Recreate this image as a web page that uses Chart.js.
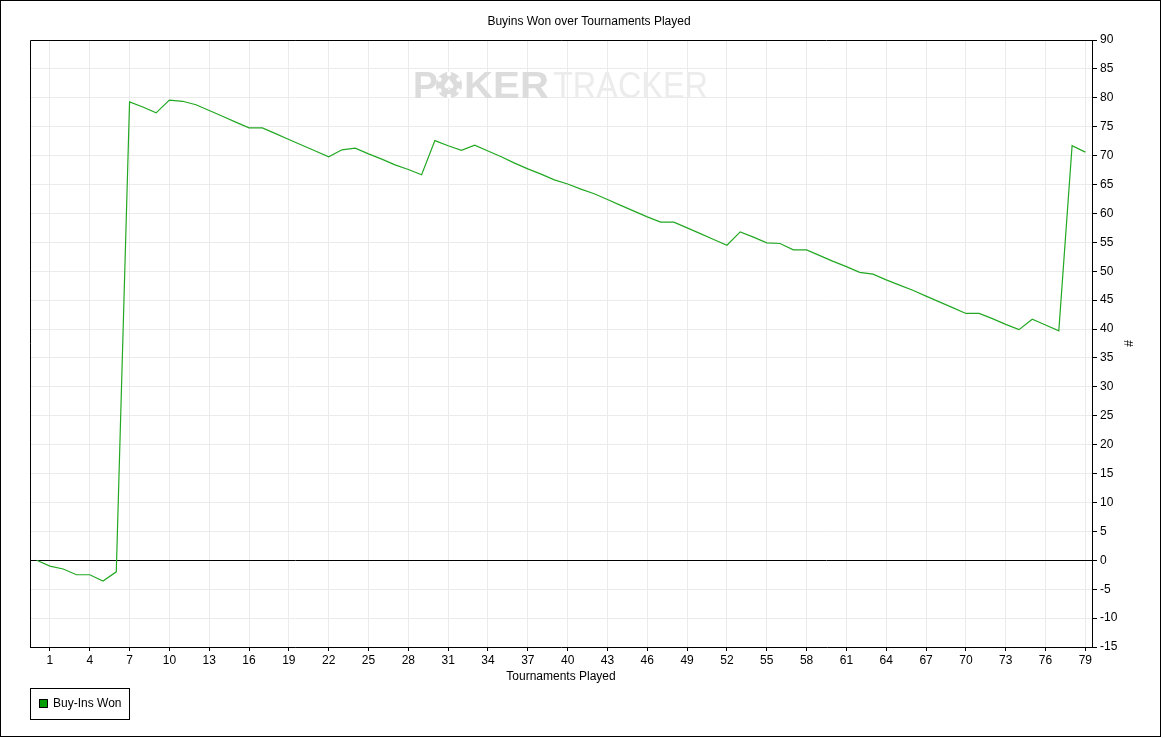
<!DOCTYPE html>
<html>
<head>
<meta charset="utf-8">
<title>Buyins Won over Tournaments Played</title>
<script src="https://cdn.jsdelivr.net/npm/chart.js@4.4.1/dist/chart.umd.min.js"></script>
<style>
  html, body { margin: 0; padding: 0; background: #fff; }
  #wrap { width: 1165px; height: 738px; }
</style>
</head>
<body>
<div id="wrap"><canvas id="chart" width="1165" height="738"></canvas></div>
<script>
(function () {

  var chartTitle = 'Buyins Won over Tournaments Played';
  var xAxisTitle = 'Tournaments Played';
  var yAxisTitle = '#';
  var seriesName = 'Buy-Ins Won';

  // buy-ins won after each tournament (index = tournament number, 0 = start)
  var buyinsWon = [
    0, -1.0, -1.5, -2.5, -2.5, -3.6, -2.0, 79.3, 78.4, 77.4,
    79.6, 79.4, 78.8, 77.8, 76.8, 75.8, 74.8, 74.8, 73.8, 72.8,
    71.8, 70.8, 69.8, 71.0, 71.3, 70.3, 69.4, 68.4, 67.6, 66.7,
    72.6, 71.7, 70.9, 71.8, 70.8, 69.8, 68.7, 67.7, 66.8, 65.8,
    65.1, 64.2, 63.4, 62.4, 61.4, 60.4, 59.4, 58.5, 58.5, 57.5,
    56.5, 55.5, 54.5, 56.8, 55.9, 54.9, 54.8, 53.7, 53.7, 52.7,
    51.7, 50.8, 49.8, 49.5, 48.5, 47.6, 46.7, 45.7, 44.7, 43.7,
    42.7, 42.7, 41.8, 40.8, 39.9, 41.7, 40.7, 39.7, 71.7, 70.6
  ];

  var xTickValues = [1, 4, 7, 10, 13, 16, 19, 22, 25, 28, 31, 34, 37, 40,
    43, 46, 49, 52, 55, 58, 61, 64, 67, 70, 73, 76, 79];
  var yMin = -15;
  var yMax = 90;
  var yStep = 5;

  var FONT = '"Liberation Sans", Arial, sans-serif';
  var LINE_COLOR = '#22a822';
  var GRID_COLOR = '#ebebeb';

  var points = buyinsWon.map(function (v, i) { return { x: i, y: v }; });

  function drawWatermark(ctx) {
    ctx.save();
    ctx.textBaseline = 'alphabetic';
    ctx.fillStyle = '#dcdcdc';
    ctx.font = 'bold 37px ' + FONT;
    ctx.fillText('P', 413, 98);
    // poker chip as the "O"
    var cx = 449, cy = 85, r = 13;
    ctx.beginPath();
    ctx.arc(cx, cy, r, 0, Math.PI * 2);
    ctx.fill();
    ctx.fillStyle = '#ffffff';
    for (var k = 0; k < 6; k++) {
      var a = k * Math.PI / 3 + Math.PI / 6;
      ctx.beginPath();
      ctx.arc(cx + Math.cos(a) * (r - 2), cy + Math.sin(a) * (r - 2), 2.2, 0, Math.PI * 2);
      ctx.fill();
    }
    ctx.font = '15px "DejaVu Sans", sans-serif';
    ctx.textAlign = 'center';
    ctx.textBaseline = 'middle';
    ctx.fillText('\u2660', cx, cy + 1);
    ctx.textAlign = 'left';
    ctx.textBaseline = 'alphabetic';
    ctx.fillStyle = '#dcdcdc';
    ctx.font = 'bold 37px ' + FONT;
    var kerW = ctx.measureText('KER').width;
    ctx.save();
    ctx.translate(464, 98);
    ctx.scale(85 / kerW, 1);
    ctx.fillText('KER', 0, 0);
    ctx.restore();
    ctx.fillStyle = '#ececec';
    ctx.font = '37px ' + FONT;
    var trW = ctx.measureText('TRACKER').width;
    ctx.translate(553, 98);
    ctx.scale(155 / trW, 1);
    ctx.fillText('TRACKER', 0, 0);
    ctx.restore();
  }

  var decorPlugin = {
    id: 'decor',
    beforeDraw: function (chart) {
      var ctx = chart.ctx;
      ctx.save();
      ctx.fillStyle = '#ffffff';
      ctx.fillRect(0, 0, chart.width, chart.height);
      ctx.restore();
    },
    beforeDatasetsDraw: function (chart) {
      drawWatermark(chart.ctx);
    },
    afterDraw: function (chart) {
      var ctx = chart.ctx;
      var area = chart.chartArea;
      ctx.save();
      ctx.strokeStyle = '#000000';
      ctx.lineWidth = 1;
      // outer frame
      ctx.strokeRect(0.5, 0.5, 1160, 736);
      // plot frame (top and left, right/bottom are axis borders)
      ctx.beginPath();
      ctx.moveTo(Math.round(area.left) + 0.5, Math.round(area.bottom));
      ctx.lineTo(Math.round(area.left) + 0.5, Math.round(area.top) + 0.5);
      ctx.lineTo(Math.round(area.right), Math.round(area.top) + 0.5);
      ctx.stroke();

      ctx.fillStyle = '#000000';
      ctx.font = '12px ' + FONT;
      ctx.textBaseline = 'middle';
      ctx.textAlign = 'center';
      ctx.fillText(chartTitle, 589, 22);
      ctx.fillText(xAxisTitle, (area.left + area.right) / 2, 677);

      ctx.save();
      ctx.translate(1130, (area.top + area.bottom) / 2);
      ctx.rotate(-Math.PI / 2);
      ctx.fillText(yAxisTitle, 0, 0);
      ctx.restore();

      // legend
      ctx.strokeRect(30.5, 688.5, 99, 31);
      ctx.fillStyle = '#009c00';
      ctx.fillRect(39, 699, 9, 9);
      ctx.strokeRect(39.5, 699.5, 8, 8);
      ctx.fillStyle = '#000000';
      ctx.textAlign = 'left';
      ctx.fillText(chart.data.datasets[0].label, 53, 704);
      ctx.restore();
    }
  };

  new Chart(document.getElementById('chart'), {
    type: 'line',
    data: {
      datasets: [{
        label: seriesName,
        data: points,
        borderColor: LINE_COLOR,
        backgroundColor: LINE_COLOR,
        borderWidth: 1.2,
        pointRadius: 0,
        tension: 0,
        fill: false
      }]
    },
    options: {
      responsive: false,
      animation: false,
      layout: { padding: { left: 30, top: 40, right: 0, bottom: 0 } },
      plugins: {
        legend: { display: false },
        title: { display: false },
        tooltip: { enabled: false }
      },
      scales: {
        x: {
          type: 'linear',
          min: -0.5,
          max: 79.5,
          afterBuildTicks: function (scale) {
            scale.ticks = xTickValues.map(function (v) { return { value: v }; });
          },
          afterFit: function (scale) { scale.height = 91; },
          grid: {
            color: GRID_COLOR,
            tickColor: '#000000',
            tickLength: 4
          },
          border: { display: true, color: '#000000', width: 1 },
          ticks: {
            autoSkip: false,
            maxRotation: 0,
            padding: 2,
            color: '#000000',
            font: { family: FONT, size: 12 }
          }
        },
        y: {
          type: 'linear',
          position: 'right',
          min: yMin,
          max: yMax,
          afterFit: function (scale) { scale.width = 73; },
          grid: {
            color: function (c) {
              return c.tick && c.tick.value === 0 ? '#000000' : GRID_COLOR;
            },
            tickColor: '#000000',
            tickLength: 5
          },
          border: { display: true, color: '#000000', width: 1 },
          ticks: {
            stepSize: yStep,
            padding: 3,
            color: '#000000',
            font: { family: FONT, size: 12 }
          }
        }
      }
    },
    plugins: [decorPlugin]
  });
})();
</script>
</body>
</html>
